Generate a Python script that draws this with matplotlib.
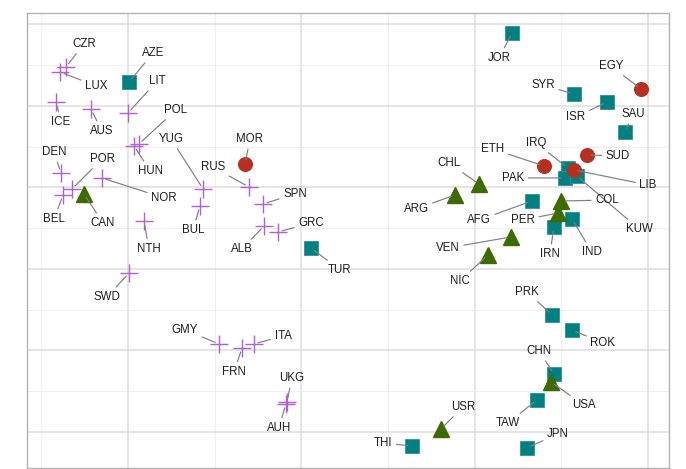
import matplotlib
matplotlib.use("Agg")
import matplotlib.pyplot as plt

# --- data (two-dimensional scaling coordinates) ---
plus_codes = ["CZR", "LUX", "ICE", "AUS", "LIT", "POL", "HUN", "DEN", "POR", "BEL",
              "NOR", "NTH", "YUG", "BUL", "RUS", "SPN", "ALB", "GRC", "SWD", "GMY",
              "FRN", "ITA", "UKG", "AUH"]
plus_x = [-1.358, -1.392, -1.415, -1.214, -1.000, -0.937, -0.965, -1.387, -1.323, -1.375,
          -1.150, -0.908, -0.567, -0.585, -0.302, -0.221, -0.215, -0.134, -0.994, -0.475,
          -0.342, -0.273, -0.083, -0.089]
plus_y = [2.479, 2.417, 2.049, 1.963, 1.914, 1.534, 1.509, 1.178, 0.982, 0.908,
          1.117, 0.589, 0.982, 0.773, 1.006, 0.798, 0.528, 0.454, -0.049, -0.920,
          -0.969, -0.920, -1.632, -1.656]

sq_codes = ["AZE", "TUR", "JOR", "SYR", "ISR", "SAU", "IRQ", "PAK", "KUW", "AFG",
            "IRN", "IND", "PRK", "ROK", "CHN", "TAW", "JPN", "THI"]
sq_x = [-0.994, 0.056, 1.216, 1.574, 1.764, 1.868, 1.539, 1.522, 1.591, 1.331,
        1.458, 1.562, 1.447, 1.562, 1.458, 1.360, 1.302, 0.639]
sq_y = [2.294, 0.258, 2.896, 2.147, 2.049, 1.681, 1.239, 1.117, 1.141, 0.834,
        0.515, 0.613, -0.564, -0.748, -1.288, -1.607, -2.196, -2.172]

circ_codes = ["MOR", "EGY", "ETH", "SUD", "LIB"]
circ_x = [-0.325, 1.960, 1.400, 1.649, 1.574]
circ_y = [1.288, 2.209, 1.264, 1.399, 1.215]

tri_codes = ["CAN", "CHL", "ARG", "COL", "PER", "VEN", "NIC", "USA", "USR"]
tri_x = [-1.254, 1.025, 0.887, 1.499, 1.481, 1.210, 1.077, 1.441, 0.806]
tri_y = [0.920, 1.043, 0.908, 0.834, 0.687, 0.393, 0.172, -1.387, -1.963]

# label offsets (pixels) as placed by the repel layout in the picture
label_offset = {
    "CZR": (18, 23), "LUX": (36, -14), "ICE": (5, -20), "AUS": (11, -22),
    "LIT": (29, 32), "POL": (37, 34), "HUN": (16, -25), "DEN": (-7, 21),
    "POR": (30, 30), "BEL": (-9, -24), "NOR": (62, -20), "NTH": (5, -28),
    "YUG": (-32, 50), "BUL": (-7, -24), "RUS": (-36, 20), "SPN": (32, 10),
    "ALB": (-22, -23), "GRC": (33, 9), "SWD": (-22, -24), "GMY": (-34, 14),
    "FRN": (-8, -24), "ITA": (29, 8), "UKG": (5, 24), "AUH": (-7, -24),
    "AZE": (24, 29), "TUR": (29, -22), "JOR": (-13, -25), "SYR": (-31, 9),
    "ISR": (-31, -15), "SAU": (8, 18), "IRQ": (-32, 25), "PAK": (-52, 0),
    "KUW": (62, -53), "AFG": (-53, -19), "IRN": (-4, -27), "IND": (20, -33),
    "PRK": (-25, 23), "ROK": (31, -13), "CHN": (-15, 23), "TAW": (-29, -23),
    "JPN": (31, 14), "THI": (-29, 3),
    "MOR": (5, 25), "EGY": (-30, 23), "ETH": (-51, 17), "SUD": (31, -1),
    "LIB": (74, -15),
    "CAN": (19, -29), "CHL": (-30, 21), "ARG": (-39, -14), "COL": (46, 1),
    "PER": (-35, -7), "VEN": (-63, -11), "NIC": (-28, -26), "USA": (33, -23),
    "USR": (22, 22),
}

fig = plt.figure(figsize=(6.86, 4.69), dpi=100)
ax = fig.add_axes([27 / 686, 1 / 469, 642 / 686, 455 / 469])

# points
ax.plot(sq_x, sq_y, ls="none", marker="s", ms=9.6, color="#008080",
        mec="#2b9595", mew=0.6, zorder=3)
ax.plot(circ_x, circ_y, ls="none", marker="o", ms=9.8, color="#B5301F",
        mec="#B5301F", zorder=3)
ax.plot(tri_x, tri_y, ls="none", marker="^", ms=12, color="#3D6B00",
        mec="#3D6B00", zorder=3)
ax.plot(plus_x, plus_y, ls="none", marker="+", ms=13.5, mew=1.0,
        color="#B05FDC", zorder=3)

# labels with leader segments
groups = [(plus_codes, plus_x, plus_y), (sq_codes, sq_x, sq_y),
          (circ_codes, circ_x, circ_y), (tri_codes, tri_x, tri_y)]
for codes, xs, ys in groups:
    for code, x, y in zip(codes, xs, ys):
        dx, dy = label_offset[code]
        ax.annotate(code, xy=(x, y), xytext=(dx, dy), textcoords="offset pixels",
                    ha="center", va="center", fontsize=8.3,
                    family=["Liberation Sans", "DejaVu Sans"], color="#1E1E1E",
                    zorder=5,
                    arrowprops=dict(arrowstyle="-", color="#808080", lw=0.85,
                                    shrinkA=1, shrinkB=3))

# theme_light look
ax.set_xlim(-1.583, 2.122)
ax.set_ylim(-2.442, 3.141)
ax.set_xticks([-1, 0, 1, 2])
ax.set_xticks([-1.5, -0.5, 0.5, 1.5], minor=True)
ax.set_yticks([-2, -1, 0, 1, 2, 3])
ax.set_yticks([-1.5, -0.5, 0.5, 1.5, 2.5], minor=True)
ax.grid(which="major", color="#DEDEDE", lw=1.1)
ax.grid(which="minor", color="#EDEDED", lw=0.6)
ax.set_axisbelow(True)
ax.tick_params(which="both", length=0, labelbottom=False, labelleft=False)
for s in ax.spines.values():
    s.set_color("#B3B3B3")
    s.set_linewidth(1.0)

fig.savefig("out.png", dpi=100)
